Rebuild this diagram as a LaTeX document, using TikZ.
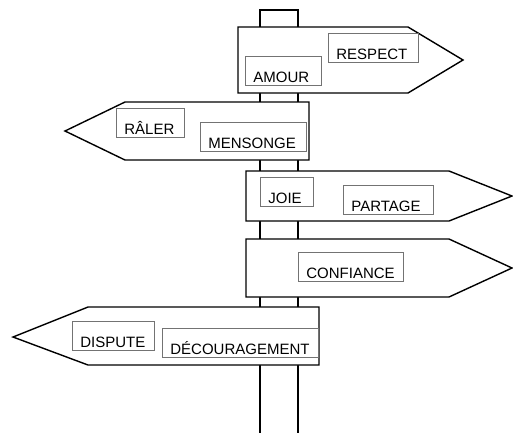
\documentclass[tikz,border=0pt]{standalone}
\usepackage{fontspec}
\setmainfont{Liberation Sans}
\usepackage{tikz}

\begin{document}
\begin{tikzpicture}[x=1pt,y=-1pt,line join=miter,
	sign/.style={draw=black,line width=1.4pt,fill=white},
	word/.style={draw=black!55,line width=0.8pt,anchor=south west,align=left,inner xsep=8pt,inner ysep=0pt,text height=26pt,text depth=3pt,font=\fontsize{15}{18}\selectfont}]
		
		\useasboundingbox (0,0) rectangle (513,432);
		
		\draw[sign] (260,10) rectangle (298,440);
		
		\draw[sign] (238,27) -- (408,27) -- (463,60) -- (408,93) -- (238,93) -- cycle;
		\draw[sign] (65,131) -- (125,102) -- (309,102) -- (309,160) -- (125,160) -- cycle;
		\draw[sign] (246,171) -- (449,171) -- (512,196) -- (449,221) -- (246,221) -- cycle;
		\draw[sign] (246,239) -- (449,239) -- (512,268) -- (449,297) -- (246,297) -- cycle;
		\draw[sign] (13,337) -- (88,307) -- (319,307) -- (319,365) -- (88,365) -- cycle;
		
		\node[word,text width=74pt] (respect) at (328,63) {RESPECT};
		\node[word,text width=60pt] (amour) at (245,86) {AMOUR};
		\node[word,text width=52pt] (raler) at (116,138) {RÂLER};
		\node[word,text width=90pt] (mensonge) at (200,152) {MENSONGE};
		\node[word,text width=37pt] (joie) at (260,207) {JOIE};
		\node[word,text width=74pt] (partage) at (343,215) {PARTAGE};
		\node[word,text width=89pt] (confiance) at (298,282) {CONFIANCE};
		\node[word,text width=66pt] (dispute) at (72,351) {DISPUTE};
		\node[word,text width=140pt] (decouragement) at (162,358) {DÉCOURAGEMENT};
		
		\end{tikzpicture}
\end{document}
